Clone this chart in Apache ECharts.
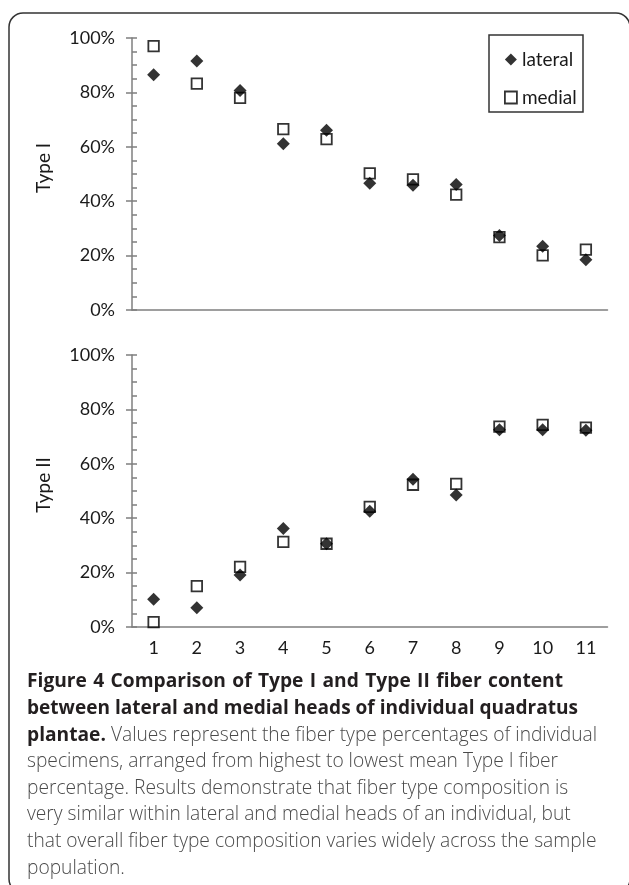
<!DOCTYPE html>
<html><head><meta charset="utf-8">
<script src="https://cdn.jsdelivr.net/npm/echarts@6/dist/echarts.min.js"></script>
<style>html,body{margin:0;padding:0;background:#fff}#c{width:629px;height:885px}</style>
</head><body><div id="c"></div>
<script>
// ---- data ----
const categories = ['1','2','3','4','5','6','7','8','9','10','11'];
const typeILateral  = [86.5, 91.5, 80.7, 61.1, 66.1, 46.6, 45.9, 46.1, 27.4, 23.4, 18.5];
const typeIMedial   = [97.0, 83.2, 78.0, 66.5, 62.8, 50.2, 48.0, 42.4, 26.8, 20.1, 22.2];
const typeIILateral = [10.2, 7.1, 19.1, 36.2, 30.6, 42.6, 54.3, 48.5, 72.5, 72.5, 72.3];
const typeIIMedial  = [1.8, 15.0, 22.1, 31.3, 30.6, 44.2, 52.3, 52.6, 73.7, 74.3, 73.3];
const yTicks = [0, 20, 40, 60, 80, 100];
const seriesNames = ['lateral', 'medial'];
const panelTitles = ['Type I', 'Type II'];
const captionLines = [
  {segs: [['Figure 4 Comparison of Type I and Type II fiber content', 'b']], justifyTo: 563},
  {segs: [['between lateral and medial heads of individual quadratus', 'b']], justifyTo: 578},
  {segs: [['plantae.', 'b'], [' Values represent the fiber type percentages of individual', 'r']]},
  {segs: [['specimens, arranged from highest to lowest mean Type I fiber', 'r']]},
  {segs: [['percentage. Results demonstrate that fiber type composition is', 'r']]},
  {segs: [['very similar within lateral and medial heads of an individual, but', 'r']]},
  {segs: [['that overall fiber type composition varies widely across the sample', 'r']]},
  {segs: [['population.', 'r']]}
];

// ---- styling ----
const AX = '#7f7f7f', TXT = '#1a1a1a', FONT = 'Lato';
const gridTops = [38, 355], gridH = 272, gridLeft = 132, gridW = 475.5;

const chart = echarts.init(document.getElementById('c'));

const grids = gridTops.map(t => ({left: gridLeft, top: t, width: gridW, height: gridH}));
const xAxes = [0, 1].map(i => ({
  type: 'category', gridIndex: i, data: categories, boundaryGap: true,
  axisLine: {show: true, lineStyle: {color: AX, width: 1.5}},
  axisTick: {show: false},
  axisLabel: {show: i === 1, color: TXT, fontFamily: FONT, fontSize: 18, margin: 12},
  splitLine: {show: false}
}));
const yAxes = [];
[0, 1].forEach(i => {
  yAxes.push({
    type: 'value', gridIndex: i, min: yTicks[0], max: yTicks[yTicks.length - 1], interval: 20,
    position: 'left',
    name: panelTitles[i], nameLocation: 'middle', nameGap: 79,
    nameTextStyle: {color: TXT, fontFamily: FONT, fontSize: 19, padding: [0, 0, 0, 12]},
    axisLine: {show: true, lineStyle: {color: AX, width: 1.5}},
    axisTick: {show: true, inside: false, length: 6, lineStyle: {color: AX, width: 1.5}},
    axisLabel: {color: TXT, fontFamily: FONT, fontSize: 18, margin: 17, formatter: '{value}%'},
    splitLine: {show: false}
  });
  yAxes.push({
    type: 'value', gridIndex: i, min: yTicks[0], max: yTicks[yTicks.length - 1], interval: 20,
    position: 'left', offset: 0,
    axisLine: {show: false},
    axisTick: {show: true, inside: true, length: 5, lineStyle: {color: AX, width: 1.5}},
    minorTick: {show: true, splitNumber: 4, length: 5, lineStyle: {color: AX, width: 1.5}},
    axisLabel: {show: false},
    splitLine: {show: false}
  });
});

function latSeries(data, panel) {
  return {name: seriesNames[0], type: 'scatter', xAxisIndex: panel, yAxisIndex: panel * 2,
    symbol: 'diamond', symbolSize: 13, itemStyle: {color: '#000'}, data: data, silent: true};
}
function medSeries(data, panel) {
  return {name: seriesNames[1], type: 'scatter', xAxisIndex: panel, yAxisIndex: panel * 2,
    symbol: 'rect', symbolSize: 10.5,
    itemStyle: {color: 'rgba(0,0,0,0)', borderColor: '#000', borderWidth: 1.8}, data: data, silent: true};
}

// ---- caption layout (text measured at runtime) ----
const mctx = document.createElement('canvas').getContext('2d');
const CAPFONT = '"Open Sans"';
function tw(text, size, weight) { mctx.font = weight + ' ' + size + 'px ' + CAPFONT; return mctx.measureText(text).width; }
const capLeft = 27, capTop = 682, capStep = 26.6;
const refLine = captionLines[6].segs[0][0];
const capFs = 16 * 570 / tw(refLine, 16, 300);
const graphics = [];
graphics.push({type: 'rect', shape: {x: 9, y: 13, width: 621, height: 880, r: 14},
  style: {fill: 'none', stroke: '#333', lineWidth: 1.5}, silent: true});
graphics.push({type: 'rect', shape: {x: 489, y: 35, width: 94, height: 77},
  style: {fill: 'none', stroke: '#333', lineWidth: 1.5}, silent: true});
captionLines.forEach((ln, i) => {
  const y = capTop + i * capStep;
  if (ln.justifyTo) {
    const words = ln.segs[0][0].split(' ');
    let fs = capFs;
    let widths = words.map(w => tw(w, fs, 700));
    let sum = widths.reduce((a, b) => a + b, 0);
    const minGap = tw(' ', fs, 700);
    const avail = ln.justifyTo - capLeft;
    if (sum + minGap * (words.length - 1) > avail) {
      fs = fs * avail / (sum + minGap * (words.length - 1));
      widths = words.map(w => tw(w, fs, 700));
      sum = widths.reduce((a, b) => a + b, 0);
    }
    const gap = (avail - sum) / (words.length - 1);
    let x = capLeft;
    words.forEach((w, k) => {
      graphics.push({type: 'text', x: x, y: y, silent: true,
        style: {text: w, fontFamily: 'Open Sans', fontSize: fs, fontWeight: 700, fill: '#231f20', verticalAlign: 'middle'}});
      x += widths[k] + gap;
    });
  } else {
    let x = capLeft;
    ln.segs.forEach(([t, kind]) => {
      const wgt = kind === 'b' ? 700 : 300;
      graphics.push({type: 'text', x: x, y: y, silent: true,
        style: {text: t, fontFamily: 'Open Sans', fontSize: capFs, fontWeight: wgt,
          fill: kind === 'b' ? '#231f20' : '#4a4a4a', verticalAlign: 'middle'}});
      x += tw(t, capFs, wgt);
    });
  }
});

chart.setOption({
  animation: false,
  backgroundColor: '#fff',
  grid: grids,
  xAxis: xAxes,
  yAxis: yAxes,
  legend: {
    data: [
      {name: seriesNames[0], icon: 'diamond', itemStyle: {color: '#000'}},
      {name: seriesNames[1], icon: 'rect', itemStyle: {color: 'rgba(0,0,0,0)', borderColor: '#000', borderWidth: 1.8}}
    ],
    orient: 'vertical', left: 499, top: 45, itemWidth: 12, itemHeight: 12, itemGap: 19,
    selectedMode: false,
    textStyle: {fontFamily: FONT, fontSize: 19, color: TXT}
  },
  series: [
    latSeries(typeILateral, 0), medSeries(typeIMedial, 0),
    latSeries(typeIILateral, 1), medSeries(typeIIMedial, 1)
  ],
  graphic: graphics
});
</script>
</body></html>
